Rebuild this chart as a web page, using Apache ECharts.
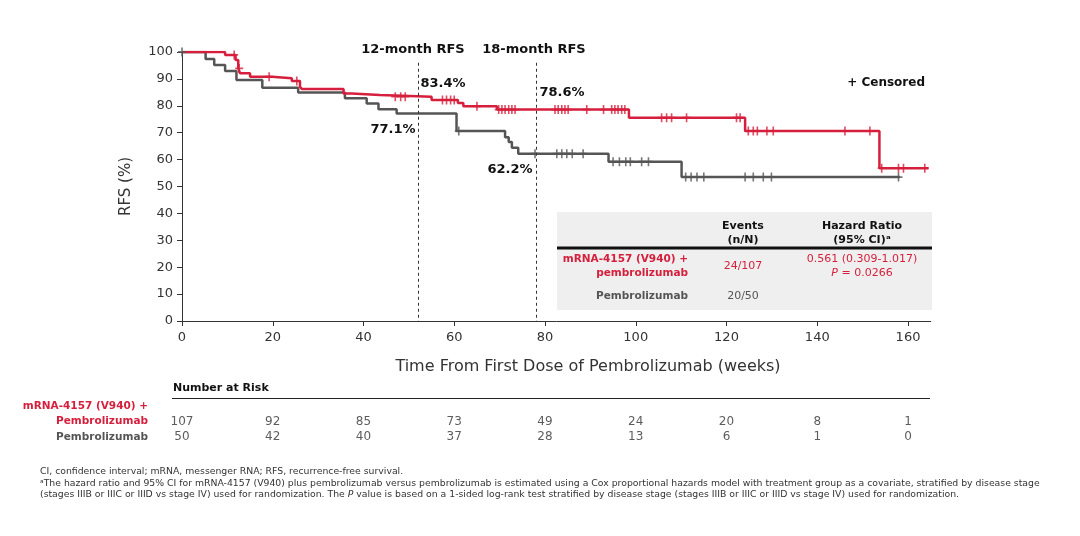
<!DOCTYPE html>
<html>
<head>
<meta charset="utf-8">
<script src="https://cdn.jsdelivr.net/npm/echarts@6/dist/echarts.min.js"></script>
<style>
  html, body { margin: 0; padding: 0; background: #fff; }
  #chart { width: 1080px; height: 536px; }
</style>
</head>
<body>
<div id="chart"></div>
<script>
// Kaplan-Meier step data (weeks, RFS %)
const comboTimes = [0, 9.5, 11.8, 12.4, 12.8, 15.0, 19.8, 24.2, 26.0, 26.4, 35.6, 37.4, 43.6, 55.0, 60.8, 62.0, 69.4, 98.5, 124.1, 153.7, 164.5];
const comboRFS   = [100, 98.9, 97.0, 93.9, 92.1, 90.8, 90.2, 89.2, 87.1, 86.2, 84.6, 84.0, 83.4, 82.2, 81.0, 79.8, 78.6, 75.6, 70.6, 56.8, 56.8];
const pembroTimes = [0, 5.2, 7.1, 9.5, 12.0, 17.7, 25.6, 35.9, 40.7, 43.3, 47.3, 60.5, 71.2, 72.0, 72.7, 74.1, 94.0, 110.1, 158.2];
const pembroRFS   = [100, 97.4, 95.2, 92.9, 89.6, 86.7, 84.9, 82.8, 80.9, 78.7, 77.1, 70.6, 68.3, 66.5, 64.4, 62.2, 59.2, 53.5, 53.5];

// censoring times (weeks)
const comboCensor = [11.5, 12.6, 19.2, 25.3, 47.0, 48.2, 49.2, 57.4, 58.3, 59.2, 60.0, 65.0,
  69.8, 70.5, 71.2, 72.0, 72.7, 73.4, 82.2, 82.9, 83.7, 84.4, 85.1, 89.2, 92.9, 94.7, 95.4, 96.1, 96.9, 97.6,
  105.7, 106.8, 107.9, 111.2, 122.2, 123.0, 124.8, 125.9, 126.8, 128.9, 130.3, 146.1, 151.6,
  154.2, 157.9, 159.0, 163.7];
const pembroCensor = [0, 61.0, 77.8, 82.6, 83.7, 84.8, 86.0, 88.4, 95.0, 96.4, 97.8, 98.8, 101.3, 102.8,
  111.0, 112.2, 113.5, 115.0, 124.1, 125.9, 128.1, 129.9, 157.9];

// number at risk
const riskWeeks = [0, 20, 40, 60, 80, 100, 120, 140, 160];
const comboRisk = [107, 92, 85, 73, 49, 24, 20, 8, 1];
const pembroRisk = [50, 42, 40, 37, 28, 13, 6, 1, 0];

const landmarks = [52, 78];

const RED = '#d61f3c';
const GRAY = '#555555';
const TEXT = '#333333';
const FONT = 'DejaVu Sans';
const PLUS = 'path://M4,0 L6,0 L6,4 L10,4 L10,6 L6,6 L6,10 L4,10 L4,6 L0,6 L0,4 L4,4 Z';

function levelAt(times, values, t) {
  let v = values[0];
  for (let i = 0; i < times.length; i++) {
    if (times[i] <= t) v = values[i];
  }
  return v;
}

const f = (size, bold) => (bold ? 'bold ' : '') + size + 'px "' + FONT + '"';

const chart = echarts.init(document.getElementById('chart'), null, { renderer: 'canvas' });

const option = {
  animation: false,
  textStyle: { fontFamily: FONT },
  grid: [
    { left: 182, top: 52, width: 748.7, height: 269 },
    { left: 182, top: 414, width: 748.7, height: 31 }
  ],
  xAxis: [{
    gridIndex: 0, type: 'value', min: 0, max: 165, interval: 20,
    axisLine: { lineStyle: { color: TEXT, width: 1 } },
    axisTick: { length: 5, lineStyle: { color: TEXT } },
    axisLabel: { fontSize: 13, color: TEXT, margin: 10, showMaxLabel: false },
    splitLine: { show: false }
  }, {
    gridIndex: 1, type: 'value', min: 0, max: 165, show: false
  }],
  yAxis: [{
    gridIndex: 0, type: 'value', min: 0, max: 100, interval: 10,
    name: 'RFS (%)', nameLocation: 'middle', nameGap: 48,
    nameTextStyle: { fontSize: 15, color: TEXT, fontFamily: FONT },
    axisLine: { show: true, lineStyle: { color: TEXT, width: 1 } },
    axisTick: { show: true, length: 5, lineStyle: { color: TEXT } },
    axisLabel: { fontSize: 13, color: TEXT, margin: 9 },
    splitLine: { show: false }
  }, {
    gridIndex: 1, type: 'category', data: ['combo', 'pembro'], inverse: true, show: false
  }],
  series: [
    {
      name: 'Pembrolizumab', type: 'line', step: 'end', showSymbol: false,
      data: pembroTimes.map((t, i) => [t, pembroRFS[i]]),
      lineStyle: { color: GRAY, width: 2.5 }, z: 2
    },
    {
      name: 'mRNA-4157 (V940) + Pembrolizumab', type: 'line', step: 'end', showSymbol: false,
      data: comboTimes.map((t, i) => [t, comboRFS[i]]),
      lineStyle: { color: RED, width: 2.5 }, z: 3,
      markLine: {
        silent: true, symbol: 'none', label: { show: false },
        lineStyle: { color: TEXT, type: [3, 3], width: 1 },
        data: landmarks.map(w => [{ coord: [w, 96] }, { coord: [w, 0] }])
      }
    },
    {
      type: 'scatter', symbol: PLUS, symbolSize: [8, 9],
      data: pembroCensor.map(t => [t, levelAt(pembroTimes, pembroRFS, t)]),
      itemStyle: { color: GRAY }, z: 4
    },
    {
      type: 'scatter', symbol: PLUS, symbolSize: [8, 9],
      data: comboCensor.map(t => [t, levelAt(comboTimes, comboRFS, t)]),
      itemStyle: { color: RED }, z: 5
    },
    {
      type: 'scatter', xAxisIndex: 1, yAxisIndex: 1, symbolSize: 0,
      data: riskWeeks.map((w, i) => [w, 'combo', comboRisk[i]])
        .concat(riskWeeks.map((w, i) => [w, 'pembro', pembroRisk[i]])),
      label: {
        show: true, position: 'inside', formatter: p => p.value[2],
        fontSize: 12, color: TEXT, fontFamily: FONT
      }
    }
  ],
  graphic: [
    // x axis title (sits right of the axis centre in the original)
    { type: 'text', x: 588, y: 367, style: { text: 'Time From First Dose of Pembrolizumab (weeks)', font: f(16), fill: TEXT, align: 'center', verticalAlign: 'middle' } },

    // landmark titles and estimates
    { type: 'text', x: 413, y: 50, style: { text: '12-month RFS', font: f(13, true), fill: '#111', align: 'center', verticalAlign: 'middle' } },
    { type: 'text', x: 534, y: 50, style: { text: '18-month RFS', font: f(13, true), fill: '#111', align: 'center', verticalAlign: 'middle' } },
    { type: 'text', x: 443, y: 84, style: { text: '83.4%', font: f(13, true), fill: '#111', align: 'center', verticalAlign: 'middle' } },
    { type: 'text', x: 393, y: 130, style: { text: '77.1%', font: f(13, true), fill: '#111', align: 'center', verticalAlign: 'middle' } },
    { type: 'text', x: 562, y: 93, style: { text: '78.6%', font: f(13, true), fill: '#111', align: 'center', verticalAlign: 'middle' } },
    { type: 'text', x: 510, y: 170, style: { text: '62.2%', font: f(13, true), fill: '#111', align: 'center', verticalAlign: 'middle' } },
    { type: 'text', x: 925, y: 83, style: { text: '+ Censored', font: f(12, true), fill: '#111', align: 'right', verticalAlign: 'middle' } },

    // hazard ratio table
    { type: 'rect', shape: { x: 557, y: 212, width: 375, height: 98 }, style: { fill: '#efefef' }, z: 0 },
    { type: 'rect', shape: { x: 557, y: 246.5, width: 375, height: 3 }, style: { fill: '#111' } },
    { type: 'text', x: 743, y: 233, style: { text: 'Events\n(n/N)', font: f(11, true), fill: '#111', align: 'center', verticalAlign: 'middle', lineHeight: 14 } },
    { type: 'text', x: 862, y: 233, style: { text: 'Hazard Ratio\n(95% CI)ᵃ', font: f(11, true), fill: '#111', align: 'center', verticalAlign: 'middle', lineHeight: 14 } },
    { type: 'text', x: 688, y: 266, style: { text: 'mRNA-4157 (V940) +\npembrolizumab', font: f(10.5, true), fill: RED, align: 'right', verticalAlign: 'middle', lineHeight: 14 } },
    { type: 'text', x: 743, y: 266, style: { text: '24/107', font: f(11), fill: RED, align: 'center', verticalAlign: 'middle' } },
    { type: 'text', x: 862, y: 259, style: { text: '0.561 (0.309-1.017)', font: f(11), fill: RED, align: 'center', verticalAlign: 'middle' } },
    { type: 'text', x: 862, y: 273, style: {
        text: '{i|P} = 0.0266', font: f(11), fill: RED, align: 'center', verticalAlign: 'middle',
        rich: { i: { fontStyle: 'italic', fontSize: 11, fontFamily: FONT, fill: RED } } } },
    { type: 'text', x: 688, y: 296, style: { text: 'Pembrolizumab', font: f(10.5, true), fill: '#555', align: 'right', verticalAlign: 'middle' } },
    { type: 'text', x: 743, y: 296, style: { text: '20/50', font: f(11), fill: '#555', align: 'center', verticalAlign: 'middle' } },

    // number at risk
    { type: 'text', x: 173, y: 388, style: { text: 'Number at Risk', font: f(11, true), fill: '#111', align: 'left', verticalAlign: 'middle' } },
    { type: 'rect', shape: { x: 172, y: 398, width: 758, height: 1 }, style: { fill: '#222' } },
    { type: 'text', x: 148, y: 414, style: { text: 'mRNA-4157 (V940) +\nPembrolizumab', font: f(10.5, true), fill: RED, align: 'right', verticalAlign: 'middle', lineHeight: 15 } },
    { type: 'text', x: 148, y: 437, style: { text: 'Pembrolizumab', font: f(10.5, true), fill: '#555', align: 'right', verticalAlign: 'middle' } },

    // footnotes
    { type: 'text', x: 40, y: 472, style: { text: 'CI, confidence interval; mRNA, messenger RNA; RFS, recurrence-free survival.', font: f(9.3), fill: TEXT, verticalAlign: 'middle' } },
    { type: 'text', x: 40, y: 484, style: { text: 'ᵃThe hazard ratio and 95% CI for mRNA-4157 (V940) plus pembrolizumab versus pembrolizumab is estimated using a Cox proportional hazards model with treatment group as a covariate, stratified by disease stage', font: f(9.3), fill: TEXT, verticalAlign: 'middle' } },
    { type: 'text', x: 40, y: 495, style: {
        text: '(stages IIIB or IIIC or IIID vs stage IV) used for randomization. The {i|P} value is based on a 1-sided log-rank test stratified by disease stage (stages IIIB or IIIC or IIID vs stage IV) used for randomization.',
        font: f(9.3), fill: TEXT, verticalAlign: 'middle',
        rich: { i: { fontStyle: 'italic', fontSize: 9.3, fontFamily: FONT, fill: TEXT } } } }
  ]
};

chart.setOption(option);
window.addEventListener('resize', () => chart.resize());
</script>
</body>
</html>
